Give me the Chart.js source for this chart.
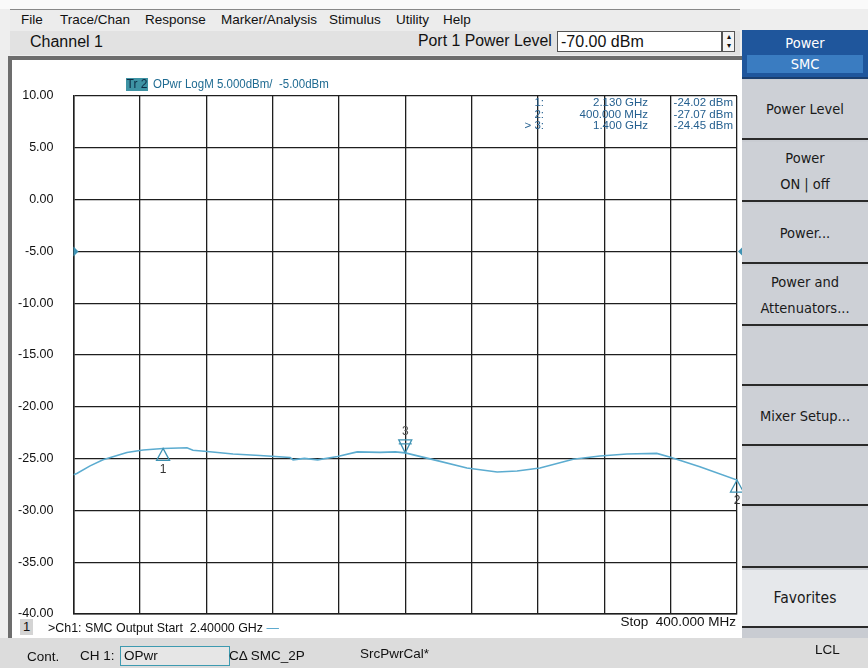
<!DOCTYPE html>
<html>
<head>
<meta charset="utf-8">
<script src="https://cdn.jsdelivr.net/npm/chart.js@4/dist/chart.umd.min.js"></script>
<style>
  html,body{margin:0;padding:0;}
  body{width:868px;height:668px;position:relative;overflow:hidden;background:#eeeeee;
       font-family:"Liberation Sans",Arial,sans-serif;color:#111;}
  .abs{position:absolute;white-space:nowrap;}
  .narrow{display:inline-block;transform:scaleX(0.86);transform-origin:left center;}
  #topstrip{left:0;top:0;width:868px;height:9px;background:#fafafa;}
  #menubar{left:10px;top:9px;width:730px;height:21px;background:#ececec;border-top:1px solid #888;font-size:13.5px;}
  #menubar span{position:absolute;top:2px;}
  #chanbar{left:10px;top:31px;width:730px;height:24px;background:#e2e2e2;}
  #frame{left:8px;top:56px;width:736px;height:578px;background:#fff;border:4px solid #6d6d6d;}
  #chartbox{left:8px;top:80px;width:737px;height:552px;}
  #status{left:0;top:638px;width:868px;height:30px;background:#dcdcdc;font-size:13.5px;}
  #soft{left:742px;top:30px;width:126px;height:608px;background:#c9ccd2;}
  .key{position:absolute;left:0;width:126px;background:#cdd0d6;border-bottom:2px solid #2a2a2a;
       font-family:"DejaVu Sans Condensed","DejaVu Sans",sans-serif;font-size:14.5px;color:#1a1a1a;
       display:flex;align-items:center;justify-content:center;text-align:center;line-height:26px;}
  .mk{color:#245f8f;font-size:11.5px;line-height:11.7px;text-align:right;}
</style>
</head>
<body>
<div class="abs" id="topstrip"></div>
<div class="abs" id="menubar">
  <span style="left:11px">File</span>
  <span style="left:50px">Trace/Chan</span>
  <span style="left:135px">Response</span>
  <span style="left:211px">Marker/Analysis</span>
  <span style="left:319px">Stimulus</span>
  <span style="left:386px">Utility</span>
  <span style="left:433px">Help</span>
</div>
<div class="abs" id="chanbar"></div>
<div class="abs" style="left:30px;top:31px;font-size:16px;line-height:22px;">Channel 1</div>
<div class="abs" style="left:418px;top:29px;font-size:16.5px;line-height:22px;"><span class="narrow" style="transform:scaleX(0.96)">Port 1 Power Level</span></div>
<div class="abs" style="left:557px;top:31px;width:160px;height:19px;background:#fff;border:1px solid #555;font-size:16px;line-height:19px;padding-left:3px;">-70.00 dBm</div>
<div class="abs" style="left:722px;top:31px;width:11px;height:19px;background:#f4f4f4;border:1px solid #555;font-size:8px;line-height:9px;text-align:center;">▴<br>▾</div>

<div class="abs" id="frame"></div>
<div class="abs" id="chartbox"><canvas id="c"></canvas></div>

<div class="abs" style="left:126px;top:78px;width:22px;height:13px;background:#3e93a4;color:#0c2b44;font-size:12px;line-height:13px;text-align:center;">Tr 2</div>
<div class="abs" style="left:153px;top:77px;color:#1f6b92;font-size:12.5px;line-height:14px;"><span class="narrow" style="transform:scaleX(0.92)">OPwr LogM 5.000dBm/&nbsp; -5.00dBm</span></div>

<div class="abs mk" style="left:500px;top:97px;width:44px;">1:<br>2:<br>&gt; 3:</div>
<div class="abs mk" style="left:560px;top:97px;width:88px;">2.130 GHz<br>400.000 MHz<br>1.400 GHz</div>
<div class="abs mk" style="left:650px;top:97px;width:83px;">-24.02 dBm<br>-27.07 dBm<br>-24.45 dBm</div>

<div class="abs" style="left:20px;top:619px;width:13px;height:16px;background:#d4d4d4;font-size:13px;line-height:16px;text-align:center;">1</div>
<div class="abs" style="left:48px;top:620px;font-size:13.5px;line-height:16px;"><span class="narrow" style="transform:scaleX(0.92)">&gt;Ch1: SMC Output Start&nbsp; 2.40000 GHz <span style="color:#4aa0c8">—</span></span></div>
<div class="abs" style="left:600px;top:614px;width:136px;text-align:right;font-size:13.5px;line-height:16px;">Stop&nbsp; 400.000 MHz</div>

<div class="abs" id="status">
  <span class="abs" style="left:27px;top:11px;">Cont.</span>
  <span class="abs" style="left:80px;top:10px;">CH 1:</span>
  <span class="abs" style="left:120px;top:8px;width:105px;height:18px;border:1px solid #3d9ab0;background:#e6e6e6;padding-left:3px;line-height:18px;">OPwr</span>
  <span class="abs" style="left:229px;top:10px;">CΔ SMC_2P</span>
  <span class="abs" style="left:360px;top:8px;">SrcPwrCal*</span>
  <span class="abs" style="left:815px;top:4px;">LCL</span>
</div>

<div class="abs" id="soft">
  <div class="key" style="top:0;height:47px;background:#1f569c;color:#fff;border-bottom:2px solid #1a3e6e;flex-direction:column;line-height:18px;">
    <div>Power</div>
    <div style="width:116px;background:#3a7cc1;margin-top:3px;">SMC</div>
  </div>
  <div class="key" style="top:50px;height:58px;">Power Level</div>
  <div class="key" style="top:112px;height:58px;">Power<br>ON | off</div>
  <div class="key" style="top:174px;height:58px;">Power...</div>
  <div class="key" style="top:236px;height:58px;">Power and<br>Attenuators...</div>
  <div class="key" style="top:298px;height:56px;"></div>
  <div class="key" style="top:358px;height:56px;">Mixer Setup...</div>
  <div class="key" style="top:418px;height:56px;"></div>
  <div class="key" style="top:478px;height:58px;"></div>
  <div class="key" style="top:540px;height:56px;background:#e6e8eb;font-size:15.5px;">Favorites</div>
</div>

<script>
// ---- data (frequency in GHz, output power in dBm) ----
const freqGHz = [2.400, 2.390, 2.350, 2.311, 2.239, 2.190, 2.130, 2.058, 2.040, 1.989, 1.919, 1.838,
                 1.747, 1.738, 1.704, 1.664, 1.604, 1.545, 1.476, 1.430, 1.400, 1.316, 1.214, 1.123,
                 1.063, 0.994, 0.894, 0.813, 0.732, 0.642, 0.603, 0.512, 0.400];
const powerDbm = [-26.55, -26.43, -25.70, -25.12, -24.41, -24.17, -24.02, -23.95, -24.20, -24.34, -24.55, -24.70,
                  -24.90, -25.12, -24.98, -25.12, -24.80, -24.35, -24.40, -24.35, -24.45, -25.10, -25.90, -26.30,
                  -26.20, -25.90, -25.07, -24.75, -24.55, -24.50, -24.85, -25.78, -27.07];
const yTicks = [10, 5, 0, -5, -10, -15, -20, -25, -30, -35, -40];
const xTicksGHz = [2.4, 2.2, 2.0, 1.8, 1.6, 1.4, 1.2, 1.0, 0.8, 0.6, 0.4];
const markerLabels = ['1', '2', '3'];
const markerFreq = [2.130, 0.400, 1.400];
const markerPower = [-24.02, -27.07, -24.45];
const markerActive = [false, false, true];
const refLevel = -5;

const teal = '#3f93b4';

const markerPlugin = {
  id: 'markers',
  afterDatasetsDraw(chart) {
    const ctx = chart.ctx, xs = chart.scales.x, ys = chart.scales.y, a = chart.chartArea;
    ctx.save();
    ctx.strokeStyle = teal; ctx.fillStyle = teal; ctx.lineWidth = 1.3;
    ctx.font = '12px "Liberation Sans", Arial, sans-serif';
    ctx.textAlign = 'center'; ctx.textBaseline = 'middle';
    for (let i = 0; i < markerLabels.length; i++) {
      const px = xs.getPixelForValue(markerFreq[i]);
      const py = ys.getPixelForValue(markerPower[i]);
      ctx.beginPath();
      if (markerActive[i]) {
        ctx.moveTo(px, py); ctx.lineTo(px - 6.5, py - 13); ctx.lineTo(px + 6.5, py - 13); ctx.closePath();
        ctx.moveTo(px - 6.5, py - 9); ctx.lineTo(px + 6.5, py - 9);
        ctx.stroke();
        ctx.fillStyle = '#555';
        ctx.fillText(markerLabels[i], px, py - 21);
        ctx.fillStyle = teal;
      } else {
        ctx.moveTo(px, py); ctx.lineTo(px - 6.5, py + 12); ctx.lineTo(px + 6.5, py + 12); ctx.closePath();
        ctx.stroke();
        ctx.fillStyle = '#333';
        ctx.fillText(markerLabels[i], px, py + 21);
        ctx.fillStyle = teal;
      }
    }
    // reference level indicators
    const ry = ys.getPixelForValue(refLevel);
    ctx.beginPath();
    ctx.moveTo(a.left, ry - 5); ctx.lineTo(a.left + 5, ry); ctx.lineTo(a.left, ry + 5); ctx.closePath(); ctx.fill();
    ctx.beginPath();
    ctx.moveTo(a.right + 6, ry - 5); ctx.lineTo(a.right + 1, ry); ctx.lineTo(a.right + 6, ry + 5); ctx.closePath(); ctx.fill();
    ctx.restore();
  }
};

new Chart(document.getElementById('c'), {
  type: 'line',
  data: {
    datasets: [{
      data: freqGHz.map((f, i) => ({x: f, y: powerDbm[i]})),
      borderColor: '#5cacd0',
      borderWidth: 1.6,
      pointRadius: 0,
      tension: 0,
      fill: false
    }]
  },
  options: {
    animation: false,
    responsive: true,
    maintainAspectRatio: false,
    devicePixelRatio: 1,
    layout: {padding: {top: 16, right: 8, bottom: 18, left: 0}},
    plugins: {legend: {display: false}, tooltip: {enabled: false}},
    scales: {
      x: {
        type: 'linear', min: 0.4, max: 2.4, reverse: true,
        afterBuildTicks: s => { s.ticks = xTicksGHz.map(v => ({value: v})); },
        afterFit: s => { s.height = 0; },
        ticks: {display: false},
        grid: {color: '#1e1e1e', lineWidth: 1.3, drawTicks: false},
        border: {color: '#1e1e1e', width: 1.5}
      },
      y: {
        min: -40, max: 10,
        afterBuildTicks: s => { s.ticks = yTicks.map(v => ({value: v})); },
        afterFit: s => { s.width = 65.5; },
        ticks: {
          color: '#111', padding: 0,
          font: {family: '"Liberation Sans",Arial,sans-serif', size: 12.5},
          callback: v => Number(v).toFixed(2)
        },
        grid: {color: '#1e1e1e', lineWidth: 1.3, drawTicks: true, tickLength: 20, tickColor: 'rgba(0,0,0,0)'},
        border: {color: '#1e1e1e', width: 1.5}
      }
    }
  },
  plugins: [markerPlugin]
});
</script>
</body>
</html>
